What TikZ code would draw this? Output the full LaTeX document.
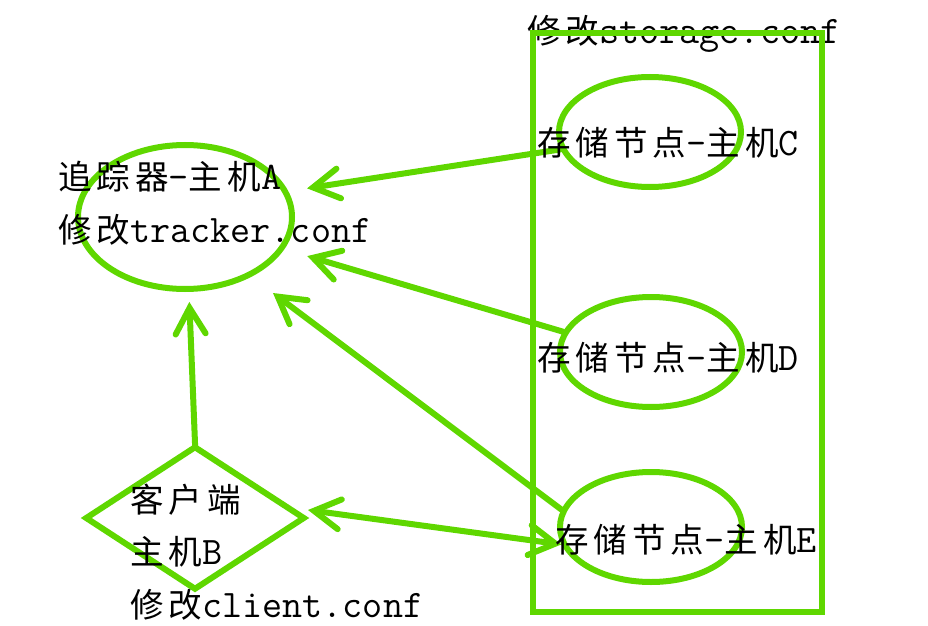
\documentclass[tikz,border=0pt]{standalone}
\usepackage{fontspec}
\newfontfamily\cjk[Scale=0.86,LetterSpace=15]{Noto Sans CJK SC}
\usetikzlibrary{shapes.geometric,arrows.meta}
\definecolor{lg}{RGB}{95,215,0}
\begin{document}
\begin{tikzpicture}[x=1pt,y=1pt,
  shp/.style={draw=lg,line width=6pt,inner sep=0pt},
  oval/.style={shp,ellipse},
  lbl/.style={anchor=west,inner sep=0pt,text height=27pt,text depth=2pt,font=\fontsize{39}{46}\selectfont\ttfamily},
  barb/.tip={Straight Barb[length=26pt,width=30pt,line cap=round]},
  arr/.style={draw=lg,line width=6pt,line cap=round,-barb},
  darr/.style={draw=lg,line width=6pt,line cap=round,barb-barb}]
\useasboundingbox (0,0) rectangle (928,625);
% storage group label and box
\node[lbl] (ts) at (527,594) {{\cjk 修改}storage.conf};
\node[shp,rectangle,minimum width=289pt,minimum height=579pt] (box) at (677.5,302.5) {};
% shapes
\node[oval,minimum width=214pt,minimum height=144pt] (A) at (185,408) {};
\node[oval,minimum width=182pt,minimum height=110pt] (C) at (650,493) {};
\node[oval,minimum width=182pt,minimum height=110pt] (D) at (651,273) {};
\node[oval,minimum width=182pt,minimum height=110pt] (E) at (651,98) {};
\node[shp,diamond,minimum width=220pt,minimum height=144pt] (B) at (195,107) {};
% connectors
\draw[arr,shorten >=19pt] (C.191) -- (A.14);
\draw[arr,shorten >=24pt] (D.167) -- (A.342);
\draw[arr,shorten >=27pt] (E.169) -- (A.318);
\draw[arr,shorten >=10pt,shorten <=-5pt] (B.north) -- (A.273);
\draw[darr] ([yshift=8pt]B.east) -- (E.191);
% texts
\node[lbl] (ta1) at (58,448) {{\cjk 追踪器}-{\cjk 主机}A};
\node[lbl] (ta2) at (58,395) {{\cjk 修改}tracker.conf};
\node[lbl] (tc) at (537,482) {{\cjk 存储节点}-{\cjk 主机}C};
\node[lbl] (td) at (537,267) {{\cjk 存储节点}-{\cjk 主机}D};
\node[lbl] (te) at (555,85) {{\cjk 存储节点}-{\cjk 主机}E};
\node[lbl] (tb1) at (130,125) {\cjk 客户端};
\node[lbl] (tb2) at (130,73) {{\cjk 主机}B};
\node[lbl] (tb3) at (130,20) {{\cjk 修改}client.conf};
\end{tikzpicture}
\end{document}
